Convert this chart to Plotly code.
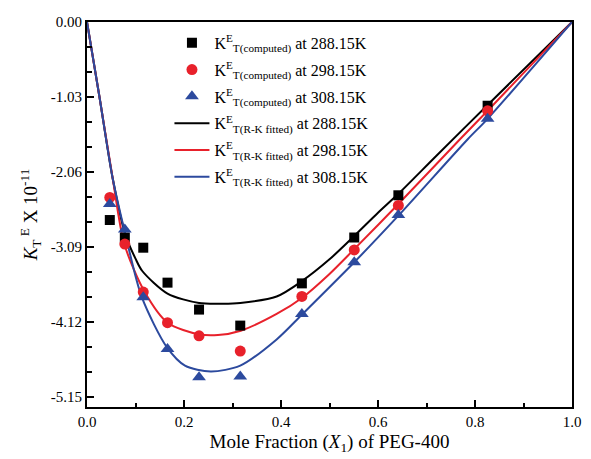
import plotly.graph_objects as go

# Mole fraction of PEG-400 for the computed points
x_pts = [0.047, 0.078, 0.116, 0.166, 0.231, 0.316, 0.443, 0.551, 0.642, 0.826]

# Computed excess isothermal compressibility (x 10^-11)
k_288 = [-2.72, -2.96, -3.10, -3.58, -3.95, -4.17, -3.59, -2.96, -2.38, -1.15]
k_298 = [-2.41, -3.05, -3.71, -4.13, -4.31, -4.52, -3.77, -3.13, -2.52, -1.22]
k_308 = [-2.50, -2.85, -3.78, -4.49, -4.88, -4.87, -4.01, -3.30, -2.65, -1.33]

# Redlich-Kister fitted curves, sampled along the composition range
fit_x_288 = [0.0, 0.026, 0.053, 0.079, 0.100, 0.114, 0.166, 0.231, 0.280, 0.316,
             0.391, 0.443, 0.500, 0.551, 0.600, 0.642, 0.720, 0.826, 1.0]
fit_y_288 = [0.0, -1.04, -2.15, -2.92, -3.25, -3.42, -3.73, -3.86, -3.87, -3.86,
             -3.77, -3.56, -3.26, -2.94, -2.62, -2.36, -1.84, -1.14, 0.0]

fit_x_298 = [0.0, 0.026, 0.053, 0.077, 0.119, 0.166, 0.231, 0.270, 0.317, 0.391,
             0.443, 0.500, 0.551, 0.642, 0.769, 0.826, 1.0]
fit_y_298 = [0.0, -1.04, -2.15, -3.05, -3.71, -4.13, -4.29, -4.30, -4.24, -4.01,
             -3.79, -3.46, -3.12, -2.50, -1.61, -1.22, 0.0]

fit_x_308 = [0.0, 0.026, 0.053, 0.080, 0.113, 0.165, 0.202, 0.255, 0.316, 0.391,
             0.443, 0.551, 0.642, 0.785, 0.826, 1.0]
fit_y_308 = [0.0, -1.04, -2.15, -2.94, -3.78, -4.47, -4.72, -4.80, -4.72, -4.36,
             -4.02, -3.30, -2.66, -1.61, -1.33, 0.0]

y_ticks = [0.00, -1.03, -2.06, -3.09, -4.12, -5.15]
y_tick_text = ["0.00", "-1.03", "-2.06", "-3.09", "-4.12", "-5.15"]
x_ticks = [0.0, 0.2, 0.4, 0.6, 0.8, 1.0]
x_tick_text = ["0.0", "0.2", "0.4", "0.6", "0.8", "1.0"]

BLACK = "#000000"
RED = "#E8212B"
BLUE = "#2C4A9E"
FONT = "Liberation Serif"

fig = go.Figure()

lines = [
    (fit_x_288, fit_y_288, BLACK, "288.15K", 4),
    (fit_x_298, fit_y_298, RED, "298.15K", 5),
    (fit_x_308, fit_y_308, BLUE, "308.15K", 6),
]
for fx, fy, col, temp, rank in lines:
    fig.add_trace(go.Scatter(
        x=fx, y=fy, mode="lines",
        line=dict(color=col, width=2, shape="spline", smoothing=0.8),
        name=f"K<sup>E</sup><sub>T(R-K fitted)</sub> at {temp}",
        legendrank=rank, legendgroup=f"g{rank}",
    ))

points = [
    (k_288, BLACK, "square", 10, "288.15K", 1),
    (k_298, RED, "circle", 11, "298.15K", 2),
    (k_308, BLUE, "triangle-up", 12, "308.15K", 3),
]
for ky, col, sym, size, temp, rank in points:
    fig.add_trace(go.Scatter(
        x=x_pts, y=ky, mode="markers",
        marker=dict(color=col, symbol=sym, size=size, line=dict(width=0)),
        name=f"K<sup>E</sup><sub>T(computed)</sub> at {temp}",
        legendrank=rank, legendgroup=f"g{rank}",
    ))

axis_common = dict(
    showline=True, linecolor="black", linewidth=2, mirror=True,
    ticks="inside", ticklen=7, tickwidth=2, tickcolor="black",
    showgrid=False, zeroline=False,
    tickfont=dict(family=FONT, size=15, color="black"),
)

fig.update_xaxes(
    range=[0, 1], tickvals=x_ticks, ticktext=x_tick_text,
    minor=dict(ticks="inside", ticklen=4, tickwidth=2, tickcolor="black",
               tick0=0, dtick=0.1, showgrid=False),
    title=dict(text="Mole Fraction (<i>X</i><sub>1</sub>) of PEG-400",
               font=dict(family=FONT, size=19, color="black"), standoff=6),
    **axis_common,
)
fig.update_yaxes(
    range=[-5.288, 0], tickvals=y_ticks, ticktext=y_tick_text,
    minor=dict(ticks="inside", ticklen=5, tickwidth=2, tickcolor="black",
               tick0=0, dtick=1.03 / 3, showgrid=False),
    title=dict(text="<i>K</i><sub>T</sub><sup> E</sup> X 10<sup>-11</sup>",
               font=dict(family=FONT, size=19, color="black"), standoff=8),
    **axis_common,
)

fig.update_layout(
    width=591, height=459,
    margin=dict(l=87, r=10, t=22, b=51),
    paper_bgcolor="white", plot_bgcolor="white",
    font=dict(family=FONT, color="black"),
    legend=dict(
        x=0.17, y=0.99, xanchor="left", yanchor="top",
        bgcolor="rgba(0,0,0,0)", borderwidth=0,
        font=dict(family=FONT, size=16, color="black"),
        itemwidth=35, tracegroupgap=3, traceorder="grouped",
    ),
)

fig.write_html("out.html")
